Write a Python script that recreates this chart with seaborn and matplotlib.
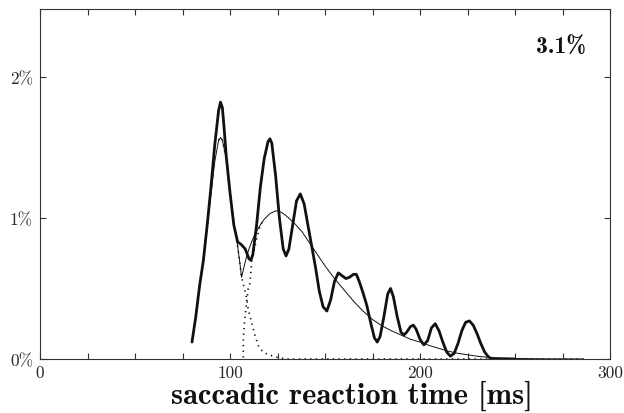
import numpy as np
import pandas as pd
import matplotlib
matplotlib.use("Agg")
import matplotlib.pyplot as plt
import seaborn as sns
from matplotlib.ticker import MultipleLocator, FixedLocator

# ---------------- data ----------------
# measured distribution (thick line): reaction time [ms], frequency [%]
obs_t = [80, 82, 84, 86, 88, 90, 92, 94, 95, 96, 97, 98, 100, 102, 104, 106,
         108, 110, 111, 112, 114, 116, 118, 120, 121, 122, 124, 126, 128, 129.5,
         131, 133, 135, 137, 139, 141, 143, 145, 147, 149, 151, 153, 155, 157,
         159, 161, 163, 165, 166.5, 168, 170, 172, 174, 176, 177.5, 179, 181,
         183, 184.5, 186, 188, 190, 191.5, 193, 195, 196.5, 198, 200, 202, 204,
         206, 208, 210, 212, 214, 216, 218, 220, 222, 224, 226, 228, 230, 232,
         234, 236, 238, 250]
obs_p = [0.12, 0.30, 0.52, 0.70, 0.95, 1.22, 1.52, 1.76, 1.82, 1.78, 1.62, 1.44,
         1.18, 0.95, 0.83, 0.81, 0.78, 0.71, 0.70, 0.74, 0.95, 1.22, 1.42, 1.54,
         1.56, 1.53, 1.30, 1.00, 0.78, 0.73, 0.78, 0.95, 1.12, 1.17, 1.10, 0.95,
         0.80, 0.65, 0.48, 0.37, 0.34, 0.42, 0.55, 0.61, 0.59, 0.57, 0.58, 0.60,
         0.60, 0.55, 0.47, 0.38, 0.26, 0.15, 0.12, 0.16, 0.30, 0.46, 0.50, 0.44,
         0.30, 0.19, 0.17, 0.19, 0.23, 0.24, 0.21, 0.14, 0.10, 0.13, 0.22, 0.25,
         0.20, 0.12, 0.05, 0.02, 0.04, 0.11, 0.20, 0.26, 0.27, 0.24, 0.18, 0.11,
         0.05, 0.015, 0.0, 0.0]

# fitted total (thin line)
fit_t = [80, 82, 84, 86, 88, 90, 92, 94, 95, 96, 98, 100, 102, 102.6, 104, 105,
         106.1, 107.5, 108.8, 110, 111.4, 113, 115, 118, 121, 124, 127, 130,
         134, 138, 142, 146, 150, 155, 160, 165, 170, 175, 180, 185, 190, 195,
         200, 205, 210, 215, 220, 225, 230, 235, 240, 250, 260, 270, 286]
fit_p = [0.13, 0.30, 0.50, 0.70, 0.93, 1.17, 1.40, 1.55, 1.57, 1.55, 1.42, 1.18,
         0.97, 0.92, 0.80, 0.70, 0.58, 0.66, 0.73, 0.78, 0.83, 0.88, 0.93, 0.99,
         1.03, 1.05, 1.04, 1.01, 0.96, 0.90, 0.82, 0.74, 0.66, 0.57, 0.49, 0.41,
         0.34, 0.28, 0.235, 0.20, 0.17, 0.14, 0.12, 0.095, 0.075, 0.055, 0.04,
         0.03, 0.02, 0.013, 0.009, 0.004, 0.002, 0.001, 0.0]

# early (express) component, dotted
early_t = [94, 95, 96, 98, 100, 102, 104, 106.1, 107.9, 108.8, 109.6, 111.4,
           113.2, 114.9, 117.5, 120.2, 125.4, 130, 286]
early_p = [1.55, 1.57, 1.55, 1.42, 1.18, 0.97, 0.80, 0.58, 0.48, 0.43, 0.35,
           0.26, 0.165, 0.094, 0.047, 0.03, 0.01, 0.0, 0.0]

# late (regular) component, dotted
late_t = [107.0, 107.0, 107.5, 108.2, 108.8, 109.6, 110.5, 111.4, 114, 116, 118]
late_p = [0.01, 0.14, 0.24, 0.33, 0.41, 0.50, 0.54, 0.69, 0.85, 0.95, 0.99]

annotation = "3.1%"
x_label = "saccadic reaction time [ms]"
x_ticks = [0, 100, 200, 300]
y_ticks = [0, 1, 2]
y_tick_labels = ["0%", "1%", "2%"]

# ---------------- figure ----------------
sns.set_style("ticks")
plt.rcParams["font.family"] = ["cmr10", "DejaVu Serif"]
plt.rcParams["axes.unicode_minus"] = False

fig = plt.figure(figsize=(6.24, 4.14), dpi=100)
ax = fig.add_axes([40 / 624, 54 / 414, 570 / 624, 350 / 414])

ink = "#111111"
sns.lineplot(x=early_t, y=early_p, ax=ax, color=ink, lw=1.2,
             linestyle=(0, (0.8, 2.6)), sort=False, estimator=None)
sns.lineplot(x=late_t, y=late_p, ax=ax, color=ink, lw=1.2,
             linestyle=(0, (0.8, 2.6)), sort=False, estimator=None)
sns.lineplot(x=fit_t, y=fit_p, ax=ax, color=ink, lw=0.7,
             sort=False, estimator=None)
sns.lineplot(x=obs_t, y=obs_p, ax=ax, color=ink, lw=2.0,
             sort=False, estimator=None)

ax.set_xlim(0, 300)
ax.set_ylim(0, 2.48)

for s in ax.spines.values():
    s.set_visible(True)
    s.set_color("#333333")
    s.set_linewidth(0.8)

ax.xaxis.set_major_locator(FixedLocator(x_ticks))
ax.xaxis.set_minor_locator(MultipleLocator(25))
ax.set_xticklabels([str(v) for v in x_ticks], fontsize=12.5, family=["cmr10", "DejaVu Serif"])
ax.yaxis.set_major_locator(FixedLocator(y_ticks))
ax.set_yticklabels(y_tick_labels, fontsize=12.5, family=["cmr10", "DejaVu Serif"])

ax.tick_params(axis="both", which="both", direction="in", top=True, right=True,
               color="#333333", width=0.8)
ax.tick_params(axis="x", which="major", length=4, pad=4)
ax.tick_params(axis="x", which="minor", length=4)
ax.tick_params(axis="y", which="major", length=4, pad=5)

ax.set_xlabel(x_label, fontsize=22, family=["cmb10", "DejaVu Serif"],
              color=ink, labelpad=0)
ax.xaxis.label.set_verticalalignment("baseline")
ax.xaxis.set_label_coords((352 - 40) / 570, -(404 - 360) / 350)
ax.set_ylabel("")

ax.text(0.958, 0.891, annotation, transform=ax.transAxes, ha="right",
        va="center", fontsize=17, family=["cmb10", "DejaVu Serif"], color=ink)

fig.savefig("out.png", dpi=100)
